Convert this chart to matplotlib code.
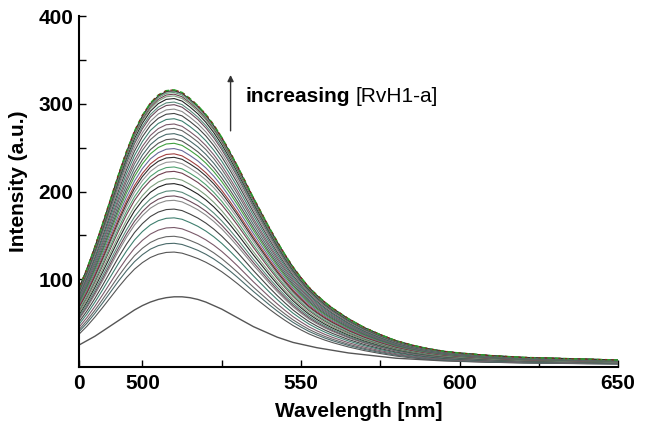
import matplotlib.pyplot as plt
import numpy as np

plt.rcParams['font.family'] = ['Liberation Sans', 'DejaVu Sans']

# wavelength grid (nm) and spectra
wavelength = [480, 482.5, 485, 487.5, 490, 492.5, 495, 497.5, 500, 502.5,
              505, 507.5, 510, 512.5, 515, 517.5, 520, 522.5, 525, 527.5,
              530, 532.5, 535, 537.5, 540, 542.5, 545, 547.5, 550, 552.5,
              555, 557.5, 560, 565, 570, 575, 580, 585, 590, 595,
              600, 610, 620, 630, 640, 650]

# highest spectrum (end of titration)
top_curve = [90, 112, 137, 164, 192, 220, 246, 269, 287, 301,
             310, 315, 316, 313, 306, 298, 288, 276, 262, 246,
             229, 211, 193, 176, 159, 143, 128, 114, 102, 91,
             82, 74, 67, 55, 45, 37, 30, 25, 21, 18,
             16, 13, 11, 10, 9, 8]

# free probe, lowest spectrum
bottom_curve = [25, 30, 35, 41, 47, 53, 59, 65, 70, 74,
                77, 79, 80, 80, 79, 77, 74, 70, 66, 61,
                56, 51, 46, 42, 38, 34, 31, 28, 26, 24,
                22, 20.5, 19, 16, 14, 12, 10, 9, 8, 7,
                6.5, 5.5, 5, 4.5, 4, 4]

# peak heights of the intermediate spectra
peaks = [131, 141, 149, 159, 170, 180, 190, 195, 201, 209, 215, 223, 228,
         234, 239, 243, 249, 255, 260, 266, 272, 277, 283, 289, 294, 299,
         302, 306, 309, 311, 313, 314, 315]

colors = ['#555555', '#4a6a6a', '#666666', '#7a5a6a', '#3f7f6f', '#444444',
          '#8a8a8a', '#6a4a5a', '#5a8a7a', '#222222', '#7f9f7f', '#704050',
          '#50a070', '#999999', '#303030', '#a04040', '#6a6a9a', '#40a040']

wl = np.array(wavelength)
top = np.array(top_curve)

fig = plt.figure(figsize=(6.5, 4.23), dpi=100)
ax = fig.add_axes([0.1215, 0.1324, 0.8295, 0.8296])

ax.plot(wl, bottom_curve, color='#555555', lw=1.0)
for i, p in enumerate(peaks):
    ax.plot(wl, top * p / top.max(), color=colors[i % len(colors)], lw=0.8)
ax.plot(wl, top, color='#2aa02a', lw=1.0, ls=(0, (4, 2)))
ax.plot(wl, top, color='#8b2020', lw=0.8, ls=(3, (2, 4)))

ax.set_xlim(480, 650)
ax.set_ylim(0, 400)
ax.set_xticks([480, 500, 550, 600, 650])
ax.set_xticklabels(['0', '500', '550', '600', '650'])
ax.set_xticks([525, 575, 625], minor=True)
ax.set_yticks([100, 200, 300, 400])
ax.set_yticks([150, 250, 350], minor=True)

for s in ['top', 'right']:
    ax.spines[s].set_visible(False)
for s in ['left', 'bottom']:
    ax.spines[s].set_linewidth(1.5)
ax.tick_params(which='both', direction='in', length=5, width=1.0)
ax.tick_params(axis='x', pad=5, labelsize=15)
ax.tick_params(axis='y', pad=4, labelsize=15)
for lab in ax.get_xticklabels() + ax.get_yticklabels():
    lab.set_fontweight('bold')

ax.set_xlabel('Wavelength [nm]', fontsize=15, fontweight='bold')
ax.set_ylabel('Intensity (a.u.)', fontsize=15, fontweight='bold')
ax.xaxis.set_label_coords(0.518, -0.1)
ax.yaxis.set_label_coords(-0.095, 0.53)

ax.annotate('', xy=(527.8, 336), xytext=(527.8, 266),
            arrowprops=dict(arrowstyle='-|>', color='#333333', lw=1.0,
                            mutation_scale=9))
t = ax.text(532.5, 302, 'increasing', fontsize=15, fontweight='bold',
            va='baseline')
ax.annotate('[RvH1-a]', xy=(1, 0), xycoords=t, xytext=(4, 0),
            textcoords='offset points', fontsize=15, va='bottom')

plt.savefig('out.png', dpi=100)
